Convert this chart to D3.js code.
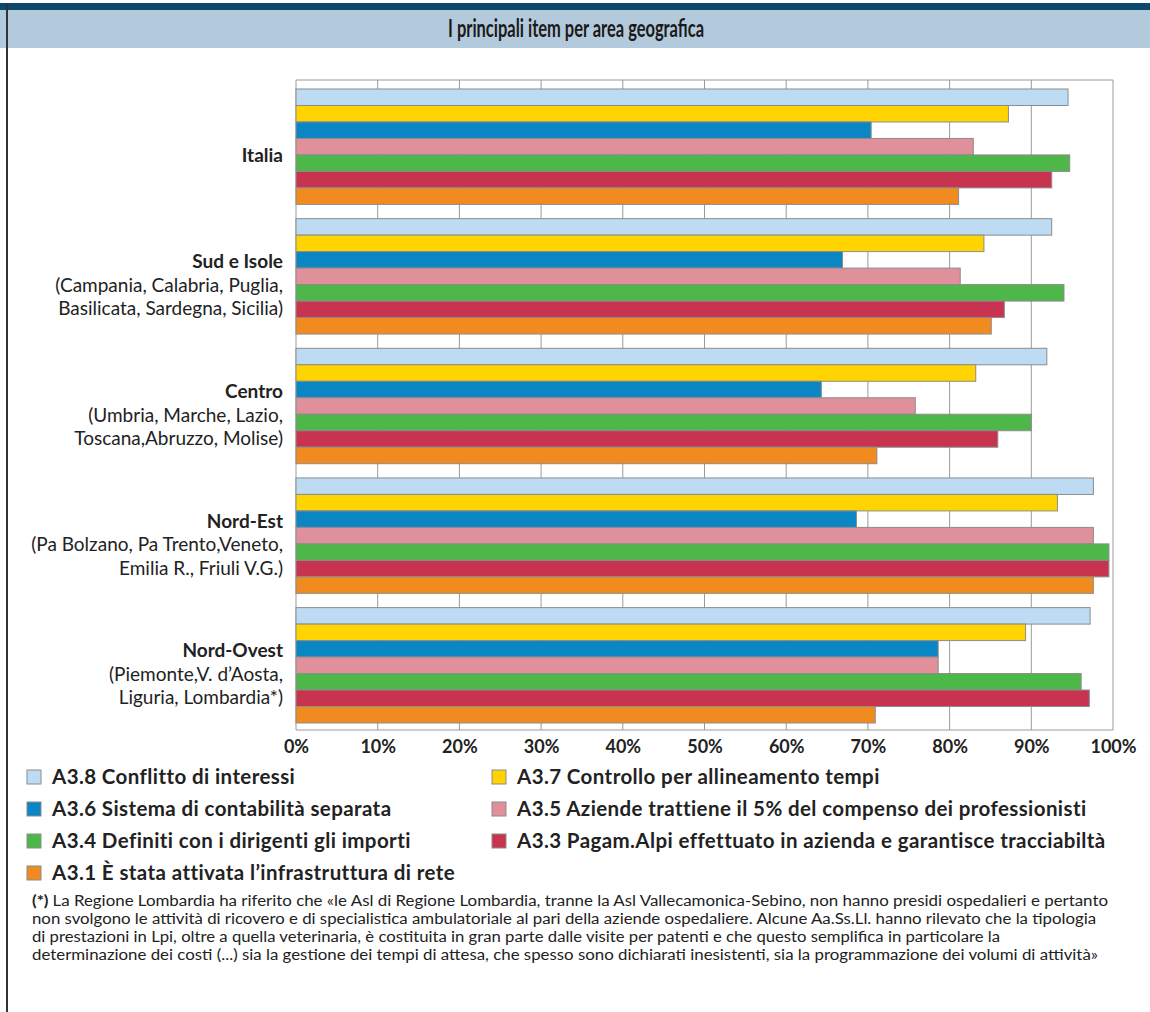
<!DOCTYPE html>
<html lang="it">
<head>
<meta charset="UTF-8">
<title>I principali item per area geografica</title>
<script src="https://d3js.org/d3.v7.min.js"></script>
<style>
    body { margin: 0; background: #fff; }
    text { font-family: Lato, "Open Sans", sans-serif; fill: #222; }
    .grid line { stroke: #9a9a9a; stroke-width: 1; }
    .bar { stroke: #8c8c8c; stroke-width: 1; }
</style>
</head>
<body>
<script>
    const width  = 1150;
    const height = 1012;

    // aree geografiche (dall'alto in basso)
    const groups = ["Italia", "Sud e Isole", "Centro", "Nord-Est", "Nord-Ovest"];
    const groupNotes = [
        [],
        ["(Campania, Calabria, Puglia,", "Basilicata, Sardegna, Sicilia)"],
        ["(Umbria, Marche, Lazio,", "Toscana,Abruzzo, Molise)"],
        ["(Pa Bolzano, Pa Trento,Veneto,", "Emilia R., Friuli V.G.)"],
        ["(Piemonte,V. d\u2019Aosta,", "Liguria, Lombardia*)"]
    ];

    // item (ordine delle barre dentro ogni gruppo)
    const items = [
        "A3.8 Conflitto di interessi",
        "A3.7 Controllo per allineamento tempi",
        "A3.6 Sistema di contabilit\u00e0 separata",
        "A3.5 Aziende trattiene il 5% del compenso dei professionisti",
        "A3.4 Definiti con i dirigenti gli importi",
        "A3.3 Pagam.Alpi effettuato in azienda e garantisce tracciabilt\u00e0",
        "A3.1 \u00c8 stata attivata l\u2019infrastruttura di rete"
    ];
    const colors = ["#bddcf3", "#ffd400", "#0b86c5", "#e0909a", "#4eb74a", "#c8334f", "#f28b1f"];

    // percentuali per area, nello stesso ordine di groups
    const a38 = [94.5, 92.5, 91.9, 97.6, 97.2];
    const a37 = [87.2, 84.2, 83.2, 93.2, 89.3];
    const a36 = [70.4, 66.9, 64.3, 68.6, 78.6];
    const a35 = [82.9, 81.3, 75.8, 97.6, 78.6];
    const a34 = [94.7, 94.0, 90.0, 99.5, 96.1];
    const a33 = [92.5, 86.7, 85.9, 99.5, 97.1];
    const a31 = [81.1, 85.1, 71.1, 97.6, 70.9];
    const seriesValues = [a38, a37, a36, a35, a34, a33, a31];

    const ticks = [0, 10, 20, 30, 40, 50, 60, 70, 80, 90, 100];

    const footnote = [
        "La Regione Lombardia ha riferito che \u00able Asl di Regione Lombardia, tranne la Asl Vallecamonica-Sebino, non hanno presidi ospedalieri e pertanto",
        "non svolgono le attivit\u00e0 di ricovero e di specialistica ambulatoriale al pari della aziende ospedaliere. Alcune Aa.Ss.Ll. hanno rilevato che la tipologia",
        "di prestazioni in Lpi, oltre a quella veterinaria, \u00e8 costituita in gran parte dalle visite per patenti e che questo semplifica in particolare la",
        "determinazione dei costi (...) sia la gestione dei tempi di attesa, che spesso sono dichiarati inesistenti, sia la programmazione dei volumi di attivit\u00e0\u00bb"
    ];
    const footnoteWidths = [1076, 1064, 968, 1066];

    const svg = d3.select("body").append("svg")
        .attr("width", width).attr("height", height);

    // cornice e testata
    svg.append("rect").attr("x", 0).attr("y", 3).attr("width", width).attr("height", 7).attr("fill", "#0c4a6d");
    svg.append("rect").attr("x", 0).attr("y", 10).attr("width", width).attr("height", 38).attr("fill", "#b3cadc");
    svg.append("line").attr("x1", 7).attr("x2", 7).attr("y1", 3).attr("y2", height)
        .attr("stroke", "#333").attr("stroke-width", 2);
    svg.append("text")
        .attr("x", 576).attr("y", 29).attr("dy", "0.35em")
        .attr("text-anchor", "middle")
        .attr("textLength", 256).attr("lengthAdjust", "spacingAndGlyphs")
        .style("font-size", "24px").style("font-weight", "bold").style("fill", "#1a1a1a")
        .text("I principali item per area geografica");

    // area del grafico
    const plot = { left: 296, right: 1113, top: 80, bottom: 730 };

    const x = d3.scaleLinear().domain([0, 100]).range([plot.left, plot.right]);
    const y0 = d3.scaleBand().domain(groups).range([89, 723]).paddingInner(0.11).paddingOuter(0);
    const y1 = d3.scaleBand().domain(items).range([0, y0.bandwidth()]).padding(0);
    const color = d3.scaleOrdinal().domain(items).range(colors);

    svg.append("g").attr("class", "grid")
        .selectAll("line").data(ticks).join("line")
        .attr("x1", d => x(d)).attr("x2", d => x(d))
        .attr("y1", plot.top).attr("y2", plot.bottom);
    svg.append("g").attr("class", "grid")
        .selectAll("line").data([plot.top, plot.bottom]).join("line")
        .attr("x1", plot.left).attr("x2", plot.right)
        .attr("y1", d => d).attr("y2", d => d);

    const gGroups = svg.append("g").selectAll("g")
        .data(groups).join("g")
        .attr("transform", g => `translate(0,${y0(g)})`);

    gGroups.selectAll("rect")
        .data((g, gi) => items.map((it, si) => ({ item: it, value: seriesValues[si][gi] })))
        .join("rect").attr("class", "bar")
        .attr("x", x(0))
        .attr("y", d => y1(d.item))
        .attr("width", d => x(d.value) - x(0))
        .attr("height", y1.bandwidth())
        .attr("fill", d => color(d.item));

    // etichette delle aree
    groups.forEach((g, gi) => {
        const lines = [g].concat(groupNotes[gi]);
        const cy = y0(g) + y0.bandwidth() / 2 + 9;
        lines.forEach((t, li) => {
            svg.append("text")
                .attr("x", 283)
                .attr("y", cy + (li - (lines.length - 1) / 2) * 23.5)
                .attr("dy", "0.35em")
                .attr("text-anchor", "end")
                .style("font-size", "19px")
                .style("font-weight", li === 0 ? "bold" : "normal")
                .text(t);
        });
    });

    // asse x
    const xAxis = d3.axisBottom(x).tickValues(ticks).tickFormat(d => d + "%").tickSize(0).tickPadding(10);
    const ax = svg.append("g").attr("transform", `translate(0,${plot.bottom})`).call(xAxis);
    ax.select(".domain").remove();
    ax.selectAll("text")
        .style("font-family", "Lato, sans-serif")
        .style("font-size", "18px").style("font-weight", "bold").style("fill", "#222");

    // legenda
    const leg = svg.append("g").selectAll("g")
        .data(items).join("g")
        .attr("transform", (d, i) => `translate(${i % 2 === 0 ? 27 : 492},${777 + Math.floor(i / 2) * 32})`);
    leg.append("rect")
        .attr("x", 0).attr("y", -7).attr("width", 14).attr("height", 14)
        .attr("fill", d => color(d)).attr("stroke", "#8c8c8c");
    leg.append("text")
        .attr("x", 25).attr("dy", "0.35em")
        .style("font-size", "20.5px").style("font-weight", "bold")
        .style("letter-spacing", "0.4px")
        .text(d => d);

    // nota
    const note = svg.append("g");
    footnote.forEach((t, i) => {
        const tx = note.append("text")
            .attr("x", 32).attr("y", 901 + i * 18).attr("dy", "0.35em")
            .attr("textLength", footnoteWidths[i]).attr("lengthAdjust", "spacingAndGlyphs")
            .style("font-size", "15.5px");
        if (i === 0) {
            tx.append("tspan").style("font-weight", "bold").text("(*) ");
        }
        tx.append("tspan").text(t);
    });
</script>
</body>
</html>
